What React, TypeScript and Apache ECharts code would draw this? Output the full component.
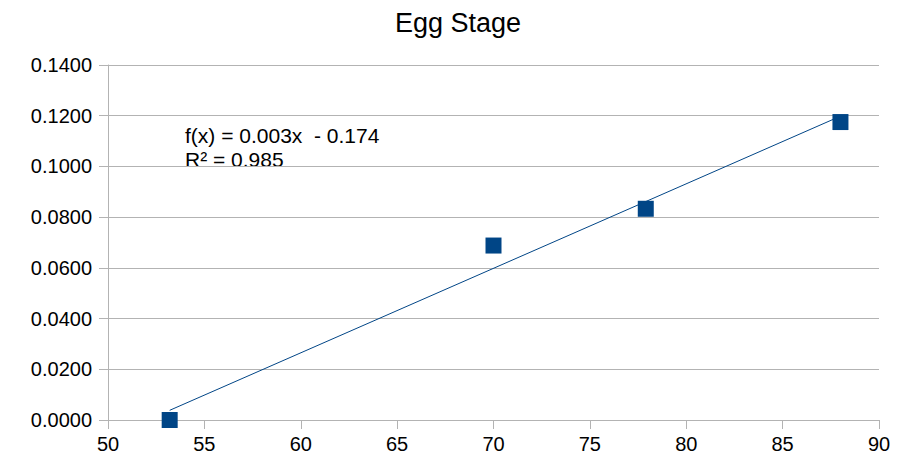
import React, { useEffect, useRef } from "react";
import * as echarts from "echarts";

const title = "Egg Stage";
const xValues = [53.2, 70.0, 77.9, 88.0];
const yValues = [0.0, 0.0688, 0.0833, 0.1175];
const equationText = "f(x) = 0.003x  - 0.174";
const r2Text = "R² = 0.985";

function linearFit(xs: number[], ys: number[]) {
  const n = xs.length;
  const mx = xs.reduce((a, b) => a + b, 0) / n;
  const my = ys.reduce((a, b) => a + b, 0) / n;
  let sxx = 0;
  let sxy = 0;
  for (let i = 0; i < n; i++) {
    sxx += (xs[i] - mx) ** 2;
    sxy += (xs[i] - mx) * (ys[i] - my);
  }
  const slope = sxy / sxx;
  return { slope, intercept: my - slope * mx };
}

export default function App() {
  const ref = useRef<HTMLDivElement>(null);
  useEffect(() => {
    if (!ref.current) return;
    const chart = echarts.init(ref.current, undefined, { renderer: "svg" });
    const fit = linearFit(xValues, yValues);
    const xMin = Math.min(...xValues);
    const xMax = Math.max(...xValues);
    const trend = [
      [xMin, fit.slope * xMin + fit.intercept],
      [xMax, fit.slope * xMax + fit.intercept],
    ];
    const font = "'Liberation Sans', Arial, sans-serif";
    chart.setOption({
      animation: false,
      backgroundColor: "#ffffff",
      title: {
        text: title,
        left: "center",
        top: 4,
        textStyle: { fontFamily: font, fontSize: 27, fontWeight: "normal", color: "#000" },
      },
      grid: { left: 108, right: 37, top: 65, bottom: 41, containLabel: false },
      xAxis: {
        type: "value",
        min: 50,
        max: 90,
        interval: 5,
        axisLine: { show: true, lineStyle: { color: "#b3b3b3", width: 1 } },
        axisTick: { show: true, length: 9, inside: false, lineStyle: { color: "#b3b3b3" } },
        splitLine: { show: false },
        axisLabel: { fontFamily: font, fontSize: 20, color: "#000", margin: 14 },
      },
      yAxis: {
        type: "value",
        min: 0,
        max: 0.14,
        interval: 0.02,
        axisLine: { show: true, lineStyle: { color: "#b3b3b3", width: 1 } },
        axisTick: { show: true, length: 9, inside: false, lineStyle: { color: "#b3b3b3" } },
        splitLine: { show: true, lineStyle: { color: "#b3b3b3", width: 1 } },
        axisLabel: {
          fontFamily: font,
          fontSize: 20,
          color: "#000",
          margin: 16,
          formatter: (v: number) => v.toFixed(4),
        },
      },
      series: [
        {
          type: "line",
          data: trend,
          symbol: "none",
          lineStyle: { color: "#004586", width: 1 },
          z: 2,
        },
        {
          type: "scatter",
          data: xValues.map((x, i) => [x, yValues[i]]),
          symbol: "rect",
          symbolSize: 16,
          itemStyle: { color: "#004586", opacity: 1 },
          z: 3,
        },
      ],
      graphic: [
        {
          type: "text",
          left: 185,
          top: 125,
          style: { text: equationText, fontFamily: font, fontSize: 21, fill: "#000" },
        },
        {
          type: "text",
          left: 185,
          top: 149,
          style: { text: r2Text, fontFamily: font, fontSize: 21, fill: "#000" },
        },
      ],
    });
    return () => chart.dispose();
  }, []);
  return (
    <div
      ref={ref}
      style={{ position: "fixed", left: 0, top: 0, width: 916, height: 461, background: "#fff" }}
    />
  );
}
